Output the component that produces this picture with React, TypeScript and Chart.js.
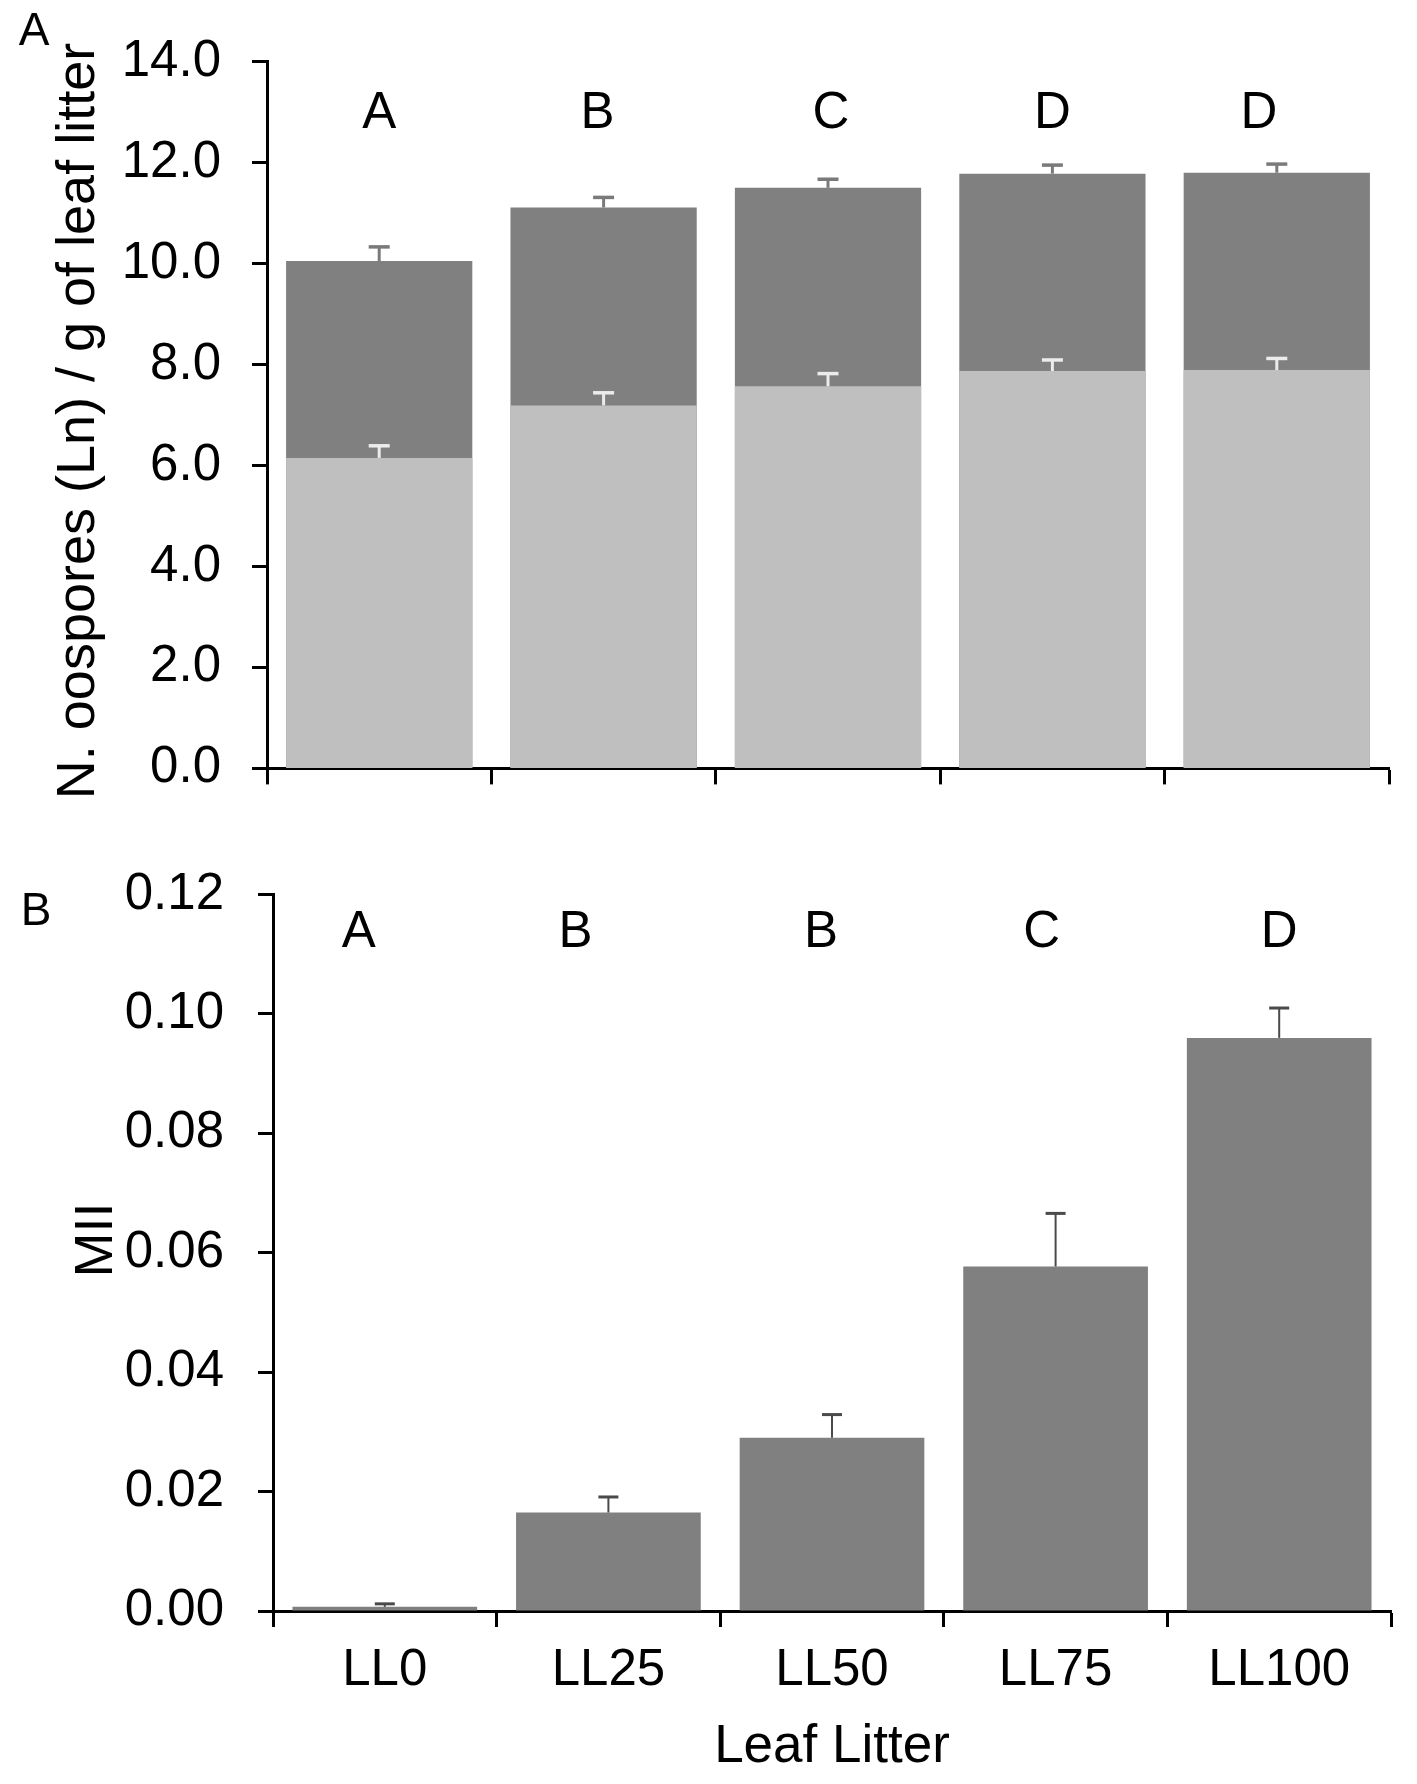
import { useEffect, useRef } from 'react';
import { Chart, registerables } from 'chart.js';

Chart.register(...registerables);

const FONT = "'Liberation Sans', Arial, Helvetica, sans-serif";

const categories = ['LL0', 'LL25', 'LL50', 'LL75', 'LL100'];

// panel A - oospores, total (dark) and lower part (light)
const oosporesTotal = [10.05, 11.11, 11.5, 11.78, 11.8];
const oosporesTotalErr = [0.28, 0.2, 0.17, 0.17, 0.17];
const oosporesLight = [6.15, 7.19, 7.57, 7.87, 7.89];
const oosporesLightErr = [0.24, 0.25, 0.25, 0.22, 0.23];
const lettersA = ['A', 'B', 'C', 'D', 'D'];
const ticksA = [0, 2, 4, 6, 8, 10, 12, 14];

// panel B - MII
const mii = [0.0007, 0.0165, 0.029, 0.0577, 0.096];
const miiErr = [0.0005, 0.0026, 0.0039, 0.0089, 0.005];
const lettersB = ['A', 'B', 'B', 'C', 'D'];
const ticksB = [0, 0.02, 0.04, 0.06, 0.08, 0.1, 0.12];

const DARK = '#808080';
const LIGHT = '#bfbfbf';

// error bars, significance letters, panel label and y title
const annotate = {
  id: 'annotate',
  afterDatasetsDraw(chart: any, _args: any, opts: any) {
    const { ctx, scales } = chart;
    const x = scales.x;
    const y = scales.y;
    ctx.save();
    opts.errors.forEach((e: any) => {
      const meta = chart.getDatasetMeta(e.dataset);
      const values = chart.data.datasets[e.dataset].data;
      meta.data.forEach((bar: any, i: number) => {
        const base = y.getPixelForValue(values[i]);
        const top = y.getPixelForValue(values[i] + e.values[i]);
        ctx.strokeStyle = e.color;
        ctx.lineWidth = e.stem;
        ctx.beginPath();
        ctx.moveTo(bar.x, base);
        ctx.lineTo(bar.x, top);
        ctx.stroke();
        ctx.lineWidth = e.capWidth;
        ctx.beginPath();
        ctx.moveTo(bar.x - e.cap / 2, top);
        ctx.lineTo(bar.x + e.cap / 2, top);
        ctx.stroke();
      });
    });
    ctx.fillStyle = '#000';
    ctx.textAlign = 'center';
    ctx.textBaseline = 'middle';
    ctx.font = `51px ${FONT}`;
    opts.letters.forEach((l: string, i: number) => {
      ctx.fillText(l, x.getPixelForValue(i) + opts.letterShift[i], y.getPixelForValue(opts.letterLevel));
    });
    ctx.font = `46px ${FONT}`;
    ctx.fillText(opts.panel, opts.panelX, opts.panelY);

    ctx.translate(opts.titleX, opts.titleY);
    ctx.rotate(-Math.PI / 2);
    ctx.font = `${opts.titleSize}px ${FONT}`;
    ctx.fillText(opts.title, 0, 0);
    ctx.restore();
  },
};

function makeConfig(p: any) {
  return {
    type: 'bar',
    data: { labels: categories, datasets: p.datasets },
    plugins: [annotate],
    options: {
      responsive: false,
      animation: false,
      devicePixelRatio: 1,
      layout: { padding: p.padding },
      plugins: {
        legend: { display: false },
        tooltip: { enabled: false },
        annotate: p.annotate,
      },
      scales: {
        x: {
          stacked: true,
          grid: {
            offset: true,
            drawOnChartArea: false,
            drawTicks: true,
            tickLength: 16,
            tickWidth: 3,
            tickColor: '#000',
          },
          border: { display: true, color: '#000', width: 3 },
          ticks: {
            display: p.showLabels,
            color: '#000',
            padding: 13,
            font: { family: FONT, size: 51, lineHeight: 1.2 },
          },
          title: {
            display: p.showLabels,
            text: 'Leaf Litter',
            color: '#000',
            padding: { top: 0, bottom: 5 },
            font: { family: FONT, size: 53, lineHeight: 1.2 },
          },
          afterFit(scale: any) {
            scale.height = p.xHeight;
          },
        },
        y: {
          stacked: false,
          min: 0,
          max: p.max,
          afterBuildTicks(scale: any) {
            scale.ticks = p.ticks.map((v: number) => ({ value: v }));
          },
          afterFit(scale: any) {
            scale.width = p.yWidth;
          },
          grid: {
            drawOnChartArea: false,
            drawTicks: true,
            tickLength: 15,
            tickWidth: 3,
            tickColor: '#000',
          },
          border: { display: true, color: '#000', width: 3 },
          ticks: {
            color: '#000',
            padding: p.tickPad,
            font: { family: FONT, size: 51, lineHeight: 1.2 },
            callback: (v: number) => v.toFixed(p.decimals),
          },
        },
      },
    },
  };
}

const ChartCanvas = ({ config, width, height }: any) => {
  const ref = useRef<HTMLCanvasElement>(null);
  useEffect(() => {
    const chart = new Chart(ref.current as HTMLCanvasElement, config);
    return () => chart.destroy();
  }, [config]);
  return <canvas ref={ref} width={width} height={height} style={{ display: 'block', width, height }} />;
};

const configA = makeConfig({
  datasets: [
    { data: oosporesLight, backgroundColor: LIGHT, barPercentage: 0.83, categoryPercentage: 1, order: 0 },
    { data: oosporesTotal, backgroundColor: DARK, barPercentage: 0.83, categoryPercentage: 1, order: 1 },
  ],
  padding: { top: 47, right: 28, bottom: 0, left: 0 },
  xHeight: 44,
  yWidth: 267,
  tickPad: 31,
  max: 14,
  ticks: ticksA,
  decimals: 1,
  showLabels: false,
  annotate: {
    errors: [
      { dataset: 1, values: oosporesTotalErr, color: '#7a7a7a', stem: 3, cap: 21, capWidth: 3.5 },
      { dataset: 0, values: oosporesLightErr, color: '#ececec', stem: 3, cap: 21, capWidth: 3.5 },
    ],
    letters: lettersA,
    letterShift: [0, -6, 3, 0, -18],
    letterLevel: 12.96,
    panel: 'A',
    panelX: 34,
    panelY: 32,
    title: 'N. oospores (Ln) / g of leaf litter',
    titleSize: 54,
    titleX: 79,
    titleY: 421,
  },
});

const configB = makeConfig({
  datasets: [
    { data: mii, backgroundColor: DARK, barPercentage: 0.826, categoryPercentage: 1 },
  ],
  padding: { top: 42, right: 26, bottom: 0, left: 0 },
  xHeight: 173,
  yWidth: 273,
  tickPad: 34,
  max: 0.12,
  ticks: ticksB,
  decimals: 2,
  showLabels: true,
  annotate: {
    errors: [
      { dataset: 0, values: miiErr, color: '#4a4a4a', stem: 2, cap: 20, capWidth: 3 },
    ],
    letters: lettersB,
    letterShift: [-26, -33, -11, -14, 0],
    letterLevel: 0.1135,
    panel: 'B',
    panelX: 36,
    panelY: 82,
    title: 'MII',
    titleSize: 54,
    titleX: 97,
    titleY: 410,
  },
});

export default function App() {
  return (
    <div style={{ position: 'absolute', left: 0, top: 0, width: 1417, height: 1784, background: '#fff' }}>
      <ChartCanvas config={configA} width={1417} height={830} />
      <ChartCanvas config={configB} width={1417} height={954} />
    </div>
  );
}
